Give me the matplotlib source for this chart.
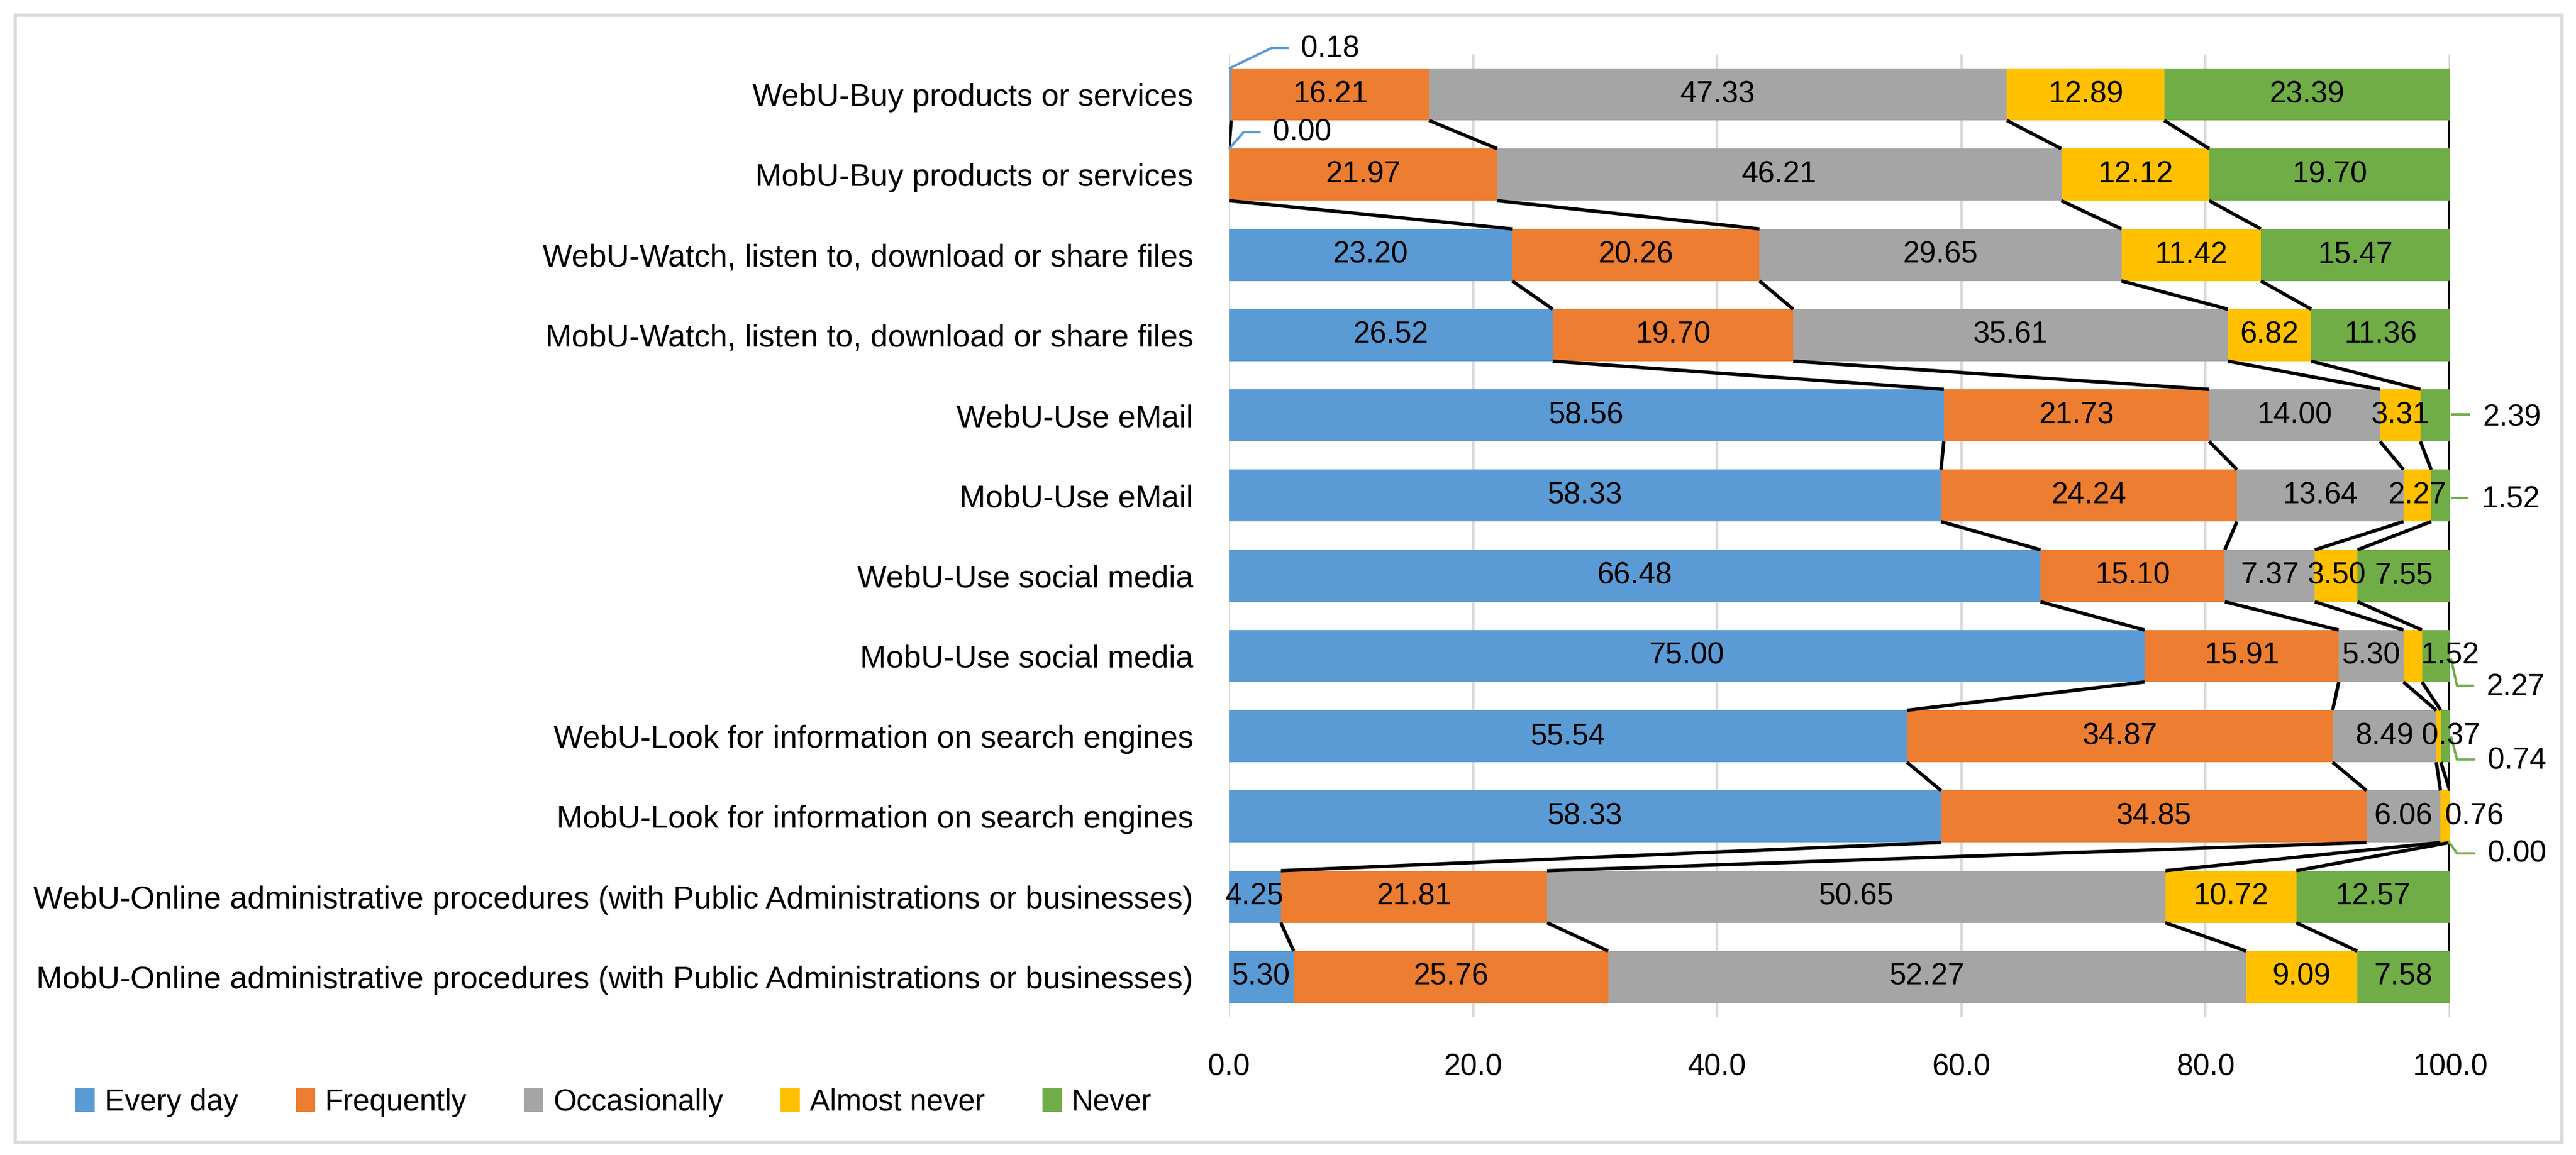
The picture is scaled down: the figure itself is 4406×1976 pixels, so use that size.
import matplotlib
matplotlib.use('Agg')
import matplotlib.pyplot as plt
from matplotlib import font_manager as fm
from matplotlib.patches import Rectangle, Patch
import numpy as np

categories = [
    "WebU-Buy products or services",
    "MobU-Buy products or services",
    "WebU-Watch, listen to, download or share files",
    "MobU-Watch, listen to, download or share files",
    "WebU-Use eMail",
    "MobU-Use eMail",
    "WebU-Use social media",
    "MobU-Use social media",
    "WebU-Look for information on search engines",
    "MobU-Look for information on search engines",
    "WebU-Online administrative procedures (with Public Administrations or businesses)",
    "MobU-Online administrative procedures (with Public Administrations or businesses)",
]
every_day = [0.18, 0.00, 23.20, 26.52, 58.56, 58.33, 66.48, 75.00, 55.54, 58.33, 4.25, 5.30]
frequently = [16.21, 21.97, 20.26, 19.70, 21.73, 24.24, 15.10, 15.91, 34.87, 34.85, 21.81, 25.76]
occasionally = [47.33, 46.21, 29.65, 35.61, 14.00, 13.64, 7.37, 5.30, 8.49, 6.06, 50.65, 52.27]
almost_never = [12.89, 12.12, 11.42, 6.82, 3.31, 2.27, 3.50, 1.52, 0.37, 0.76, 10.72, 9.09]
never = [23.39, 19.70, 15.47, 11.36, 2.39, 1.52, 7.55, 2.27, 0.74, 0.00, 12.57, 7.58]
series_names = ["Every day", "Frequently", "Occasionally", "Almost never", "Never"]
x_ticks = [0, 20, 40, 60, 80, 100]
x_tick_labels = ["0.0", "20.0", "40.0", "60.0", "80.0", "100.0"]

colors = ["#5B9BD5", "#ED7D31", "#A5A5A5", "#FFC000", "#70AD47"]

# font selection
try:
    fm.findfont(fm.FontProperties(family="Liberation Sans Narrow"), fallback_to_default=False)
    FONT = "Liberation Sans Narrow"
    FS = 44
    FS_CAT = 46
except Exception:
    FONT = "Liberation Sans"
    FS = 37
    FS_CAT = 38.6
plt.rcParams["font.family"] = [FONT, "DejaVu Sans"]

W, H = 4406, 1976
fig = plt.figure(figsize=(W / 100, H / 100), dpi=100)
fig.patch.set_facecolor("white")

left, right, top, bottom = 2102, 4190, 93, 1740
ax = fig.add_axes([left / W, 1 - bottom / H, (right - left) / W, (bottom - top) / H])

series = [every_day, frequently, occasionally, almost_never, never]
n = len(categories)
y = np.arange(n)
bh = 0.648

ax.set_xlim(0, 100)
ax.set_ylim(n - 0.5, -0.5)

grid_c = "#D9D9D9"
for xt in x_ticks:
    ax.axvline(xt, color=grid_c, lw=3.1, zorder=0)

lefts = np.zeros(n)
ends = []
for s, vals in enumerate(series):
    vals = np.array(vals)
    ax.barh(y, vals, left=lefts, height=bh, color=colors[s], zorder=2, linewidth=0)
    lefts = lefts + vals
    ends.append(lefts.copy())

# series lines
for s in range(len(series)):
    e = ends[s]
    for i in range(n - 1):
        ax.plot([e[i], e[i + 1]], [i + bh / 2, i + 1 - bh / 2], color="black",
                lw=4.2, zorder=3, solid_capstyle="butt")

# callout labels: (bar, series) -> leader points, text position
callouts = {
    (0, 0): ([(0.0, -0.324), (3.5, -0.58), (4.9, -0.58)], (5.9, -0.565)),
    (1, 0): ([(0.0, 0.68), (1.2, 0.47), (2.6, 0.47)], (3.6, 0.477)),
    (4, 4): ([(100.1, 3.99), (101.7, 3.99)], (102.7, 4.03)),
    (5, 4): ([(100.1, 5.03), (101.5, 5.03)], (102.6, 5.05)),
    (7, 4): ([(100.1, 7.03), (100.6, 7.37), (102.0, 7.37)], (103.0, 7.39)),
    (8, 4): ([(100.1, 8.0), (100.6, 8.29), (102.1, 8.29)], (103.1, 8.31)),
    (9, 4): ([(99.9, 9.31), (100.6, 9.46), (102.1, 9.46)], (103.1, 9.47)),
}
shifted = {(7, 3): 100.0, (8, 3): 100.1, (9, 3): 102.0}

for s, vals in enumerate(series):
    for i, v in enumerate(vals):
        txt = f"{v:.2f}"
        if (i, s) in callouts:
            pts, tpos = callouts[(i, s)]
            xs, ys = zip(*pts)
            ax.plot(xs, ys, color=colors[s], lw=3.0, zorder=4, clip_on=False,
                    solid_capstyle="butt")
            ax.text(tpos[0], tpos[1], txt, ha="left", va="center", fontsize=FS,
                    color="black", zorder=5, clip_on=False)
        else:
            if (i, s) in shifted:
                xc = shifted[(i, s)]
            else:
                xc = ends[s][i] - v / 2
            ax.text(xc, i, txt, ha="center", va="center", fontsize=FS,
                    color="black", zorder=5, clip_on=False)

ax.set_xticks(x_ticks)
ax.set_xticklabels(x_tick_labels, fontsize=FS)
ax.set_yticks(y)
ax.set_yticklabels(categories, fontsize=FS_CAT)
ax.tick_params(axis="x", length=0, pad=44)
ax.tick_params(axis="y", length=0, pad=44)
for sp in ax.spines.values():
    sp.set_visible(False)

handles = [Patch(facecolor=c, edgecolor="none", label=nm) for c, nm in zip(colors, series_names)]
fs_px = FS * 100 / 72
fig.legend(handles=handles, ncol=5, loc="center left",
           bbox_to_anchor=(129 / W, 1 - 1886 / H), frameon=False, borderpad=0,
           borderaxespad=0, handlelength=33 / fs_px, handleheight=42 / fs_px,
           handletextpad=17 / fs_px, columnspacing=98 / fs_px, fontsize=FS)

fig.add_artist(Rectangle((26 / W, 1 - 1954 / H), (4382 - 26) / W, (1954 - 26) / H,
                         transform=fig.transFigure, fill=False, ec=grid_c, lw=4))

fig.savefig("out.png", dpi=100, facecolor="white")
